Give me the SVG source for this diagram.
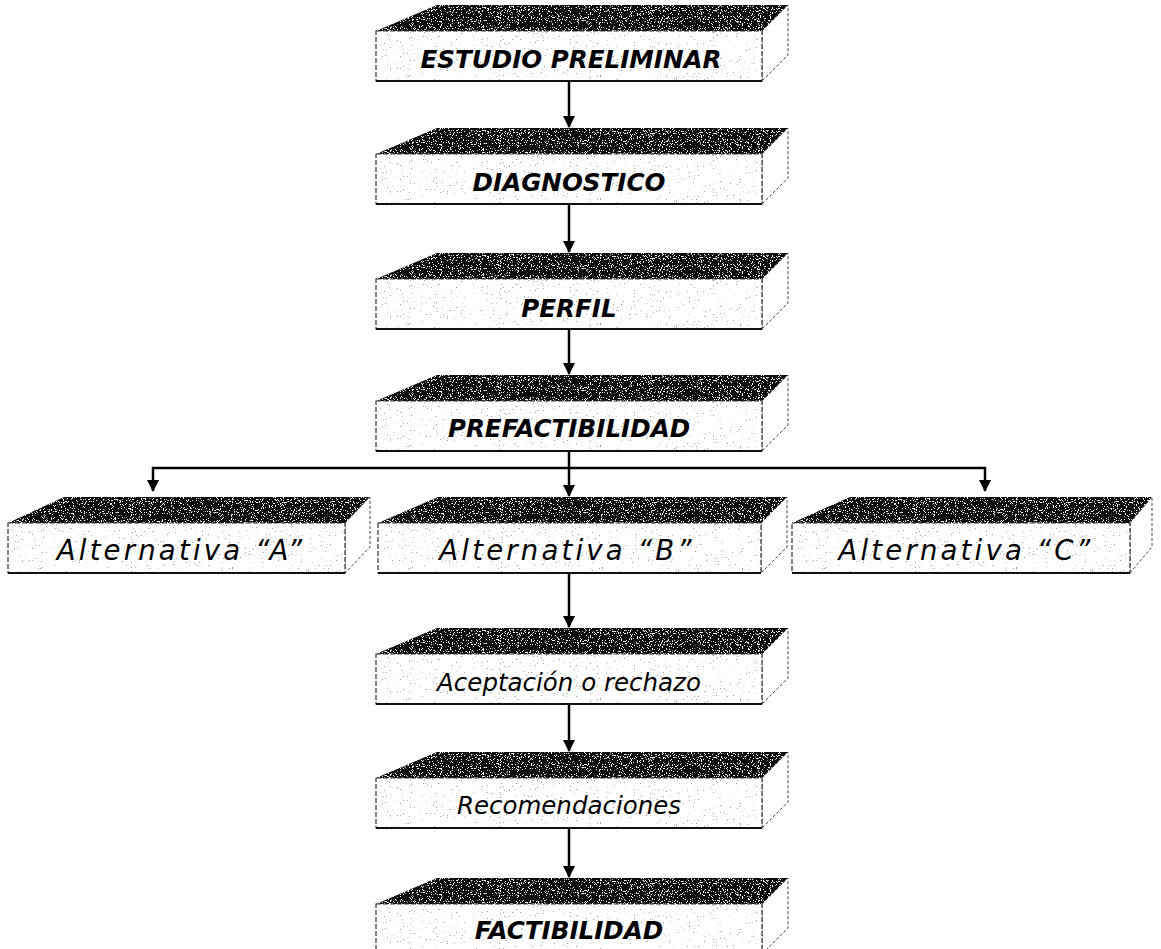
<svg xmlns="http://www.w3.org/2000/svg" width="1161" height="949" viewBox="0 0 1161 949">
<defs>
<filter id="speckDark" x="0" y="0" width="100%" height="100%">
<feTurbulence type="fractalNoise" baseFrequency="0.9" numOctaves="2" seed="3" result="n"/>
<feColorMatrix in="n" type="matrix" values="0 0 0 0 1  0 0 0 0 1  0 0 0 0 1  0 0 0 -18 7.0" result="w"/>
<feFlood flood-color="#0d0d0d" result="k"/>
<feComposite in="w" in2="k" operator="over" result="m"/>
<feComposite in="m" in2="SourceGraphic" operator="in"/>
</filter>
<filter id="speckLight" x="0" y="0" width="100%" height="100%">
<feTurbulence type="fractalNoise" baseFrequency="0.7" numOctaves="2" seed="7" result="n"/>
<feColorMatrix in="n" type="matrix" values="0 0 0 0 0.35  0 0 0 0 0.35  0 0 0 0 0.35  0 0 0 20 -14.4" result="d"/>
<feFlood flood-color="#fff" result="w"/>
<feComposite in="d" in2="w" operator="over" result="m"/>
<feComposite in="m" in2="SourceGraphic" operator="in"/>
</filter>
<marker id="ah" markerWidth="12" markerHeight="12" refX="11" refY="6" orient="auto" markerUnits="userSpaceOnUse">
<path d="M0,0 L12,6 L0,12 Z" fill="#000"/>
</marker>
</defs>
<style>
.top{fill:#111;filter:url(#speckDark);}
.front{fill:#fff;filter:url(#speckLight);}
.fe{fill:none;stroke:#333;stroke-width:1.2;stroke-dasharray:5 2;}
.fb{fill:none;stroke:#111;stroke-width:2.2;}
.se{fill:#fff;stroke:#444;stroke-width:1;stroke-dasharray:3 2;}
.tb{font-family:"DejaVu Sans",Verdana,sans-serif;font-weight:bold;font-style:italic;font-size:24.6px;fill:#000;text-anchor:middle;}
.tr{font-family:"DejaVu Sans",Verdana,sans-serif;font-style:italic;font-size:24.5px;fill:#000;text-anchor:middle;}
.ta{font-family:"DejaVu Sans",Verdana,sans-serif;font-style:italic;font-size:27.5px;letter-spacing:3.2px;fill:#000;text-anchor:middle;}
.cn{fill:none;stroke:#000;stroke-width:2.5;}
</style>

<g id="connectors">
<line class="cn" x1="569" y1="80" x2="569" y2="127" marker-end="url(#ah)"/>
<line class="cn" x1="569" y1="203" x2="569" y2="252" marker-end="url(#ah)"/>
<line class="cn" x1="569" y1="328" x2="569" y2="374" marker-end="url(#ah)"/>
<line class="cn" x1="569" y1="450" x2="569" y2="496" marker-end="url(#ah)"/>
<line class="cn" x1="152" y1="468" x2="986" y2="468"/>
<line class="cn" x1="153" y1="467" x2="153" y2="491" marker-end="url(#ah)"/>
<line class="cn" x1="985" y1="467" x2="985" y2="491" marker-end="url(#ah)"/>
<line class="cn" x1="569" y1="572" x2="569" y2="627" marker-end="url(#ah)"/>
<line class="cn" x1="569" y1="703" x2="569" y2="751" marker-end="url(#ah)"/>
<line class="cn" x1="569" y1="827" x2="569" y2="877" marker-end="url(#ah)"/>
</g>

<g id="estudio" transform="translate(376,5)">
<polygon class="top" points="0,26 61,0 412,0 386,26"/>
<polygon class="se" points="386,26 412,0 412,50 386,76"/>
<rect class="front" x="0" y="26" width="386" height="50"/>
<rect class="fe" x="0" y="26" width="386" height="50"/>
<line class="fb" x1="0" y1="76" x2="386" y2="76"/>
<text class="tb" x="195" y="63">ESTUDIO PRELIMINAR</text>
</g>

<g id="diagnostico" transform="translate(376,128)">
<polygon class="top" points="0,26 61,0 412,0 386,26"/>
<polygon class="se" points="386,26 412,0 412,50 386,76"/>
<rect class="front" x="0" y="26" width="386" height="50"/>
<rect class="fe" x="0" y="26" width="386" height="50"/>
<line class="fb" x1="0" y1="76" x2="386" y2="76"/>
<text class="tb" x="193" y="63">DIAGNOSTICO</text>
</g>

<g id="perfil" transform="translate(376,253)">
<polygon class="top" points="0,26 61,0 412,0 386,26"/>
<polygon class="se" points="386,26 412,0 412,50 386,76"/>
<rect class="front" x="0" y="26" width="386" height="50"/>
<rect class="fe" x="0" y="26" width="386" height="50"/>
<line class="fb" x1="0" y1="76" x2="386" y2="76"/>
<text class="tb" x="193" y="64">PERFIL</text>
</g>

<g id="prefactibilidad" transform="translate(376,375)">
<polygon class="top" points="0,26 61,0 412,0 386,26"/>
<polygon class="se" points="386,26 412,0 412,50 386,76"/>
<rect class="front" x="0" y="26" width="386" height="50"/>
<rect class="fe" x="0" y="26" width="386" height="50"/>
<line class="fb" x1="0" y1="76" x2="386" y2="76"/>
<text class="tb" x="193" y="62">PREFACTIBILIDAD</text>
</g>

<g id="altA" transform="translate(8,497)">
<polygon class="top" points="0,26 56,0 362,0 337,26"/>
<polygon class="se" points="337,26 362,0 362,50 337,76"/>
<rect class="front" x="0" y="26" width="337" height="50"/>
<rect class="fe" x="0" y="26" width="337" height="50"/>
<line class="fb" x1="0" y1="76" x2="337" y2="76"/>
<text class="ta" x="173" y="63">Alternativa “A”</text>
</g>

<g id="altB" transform="translate(378,497)">
<polygon class="top" points="0,26 60,0 409,0 383,26"/>
<polygon class="se" points="383,26 409,0 409,50 383,76"/>
<rect class="front" x="0" y="26" width="383" height="50"/>
<rect class="fe" x="0" y="26" width="383" height="50"/>
<line class="fb" x1="0" y1="76" x2="383" y2="76"/>
<text class="ta" x="189" y="63">Alternativa “B”</text>
</g>

<g id="altC" transform="translate(792,497)">
<polygon class="top" points="0,26 58,0 360,0 338,26"/>
<polygon class="se" points="338,26 360,0 360,50 338,76"/>
<rect class="front" x="0" y="26" width="338" height="50"/>
<rect class="fe" x="0" y="26" width="338" height="50"/>
<line class="fb" x1="0" y1="76" x2="338" y2="76"/>
<text class="ta" x="174" y="63">Alternativa “C”</text>
</g>

<g id="aceptacion" transform="translate(376,628)">
<polygon class="top" points="0,26 61,0 412,0 386,26"/>
<polygon class="se" points="386,26 412,0 412,50 386,76"/>
<rect class="front" x="0" y="26" width="386" height="50"/>
<rect class="fe" x="0" y="26" width="386" height="50"/>
<line class="fb" x1="0" y1="76" x2="386" y2="76"/>
<text class="tr" x="193" y="63">Aceptación o rechazo</text>
</g>

<g id="recomendaciones" transform="translate(376,752)">
<polygon class="top" points="0,26 61,0 412,0 386,26"/>
<polygon class="se" points="386,26 412,0 412,50 386,76"/>
<rect class="front" x="0" y="26" width="386" height="50"/>
<rect class="fe" x="0" y="26" width="386" height="50"/>
<line class="fb" x1="0" y1="76" x2="386" y2="76"/>
<text class="tr" x="193" y="62">Recomendaciones</text>
</g>

<g id="factibilidad" transform="translate(376,878)">
<polygon class="top" points="0,26 61,0 412,0 386,26"/>
<polygon class="se" points="386,26 412,0 412,50 386,76"/>
<rect class="front" x="0" y="26" width="386" height="50"/>
<rect class="fe" x="0" y="26" width="386" height="50"/>
<line class="fb" x1="0" y1="76" x2="386" y2="76"/>
<text class="tb" x="193" y="61">FACTIBILIDAD</text>
</g>
</svg>
